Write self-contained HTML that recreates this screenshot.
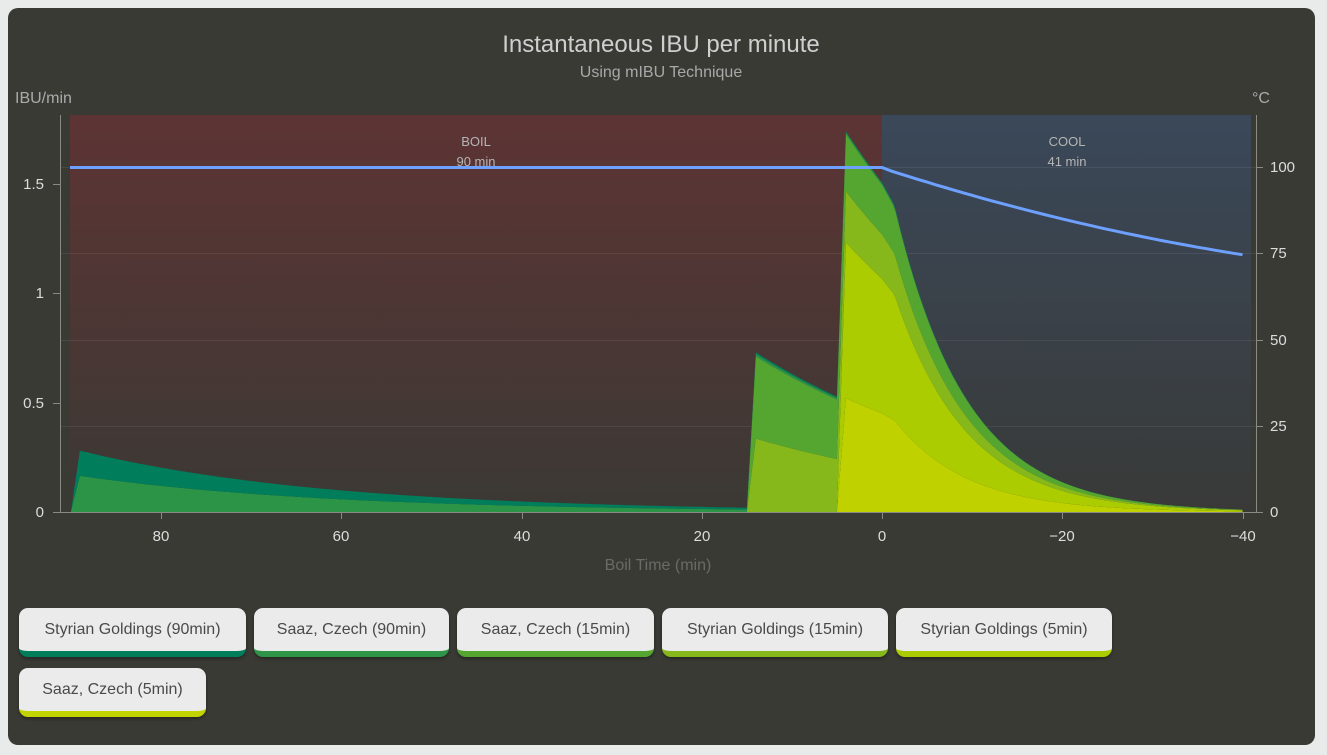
<!DOCTYPE html>
<html><head><meta charset="utf-8">
<style>
html,body{margin:0;padding:0;background:#e9ebea;width:1327px;height:755px;overflow:hidden;font-family:"Liberation Sans",sans-serif}
#card{position:absolute;left:8px;top:8px;width:1307px;height:737px;background:#3a3a35;border-radius:10px}
svg{position:absolute;left:0;top:0}
.btn{position:absolute;height:49px;background:#ebebeb;border-radius:9px;font-size:16px;color:#4a4a4a;line-height:44px;text-align:center;box-sizing:border-box;box-shadow:0 2px 3px rgba(0,0,0,.35)}
</style></head><body>
<div id="card"></div>
<svg id="s" width="1327" height="755" xmlns="http://www.w3.org/2000/svg" font-family="Liberation Sans, DejaVu Sans, sans-serif">
<defs>
<linearGradient id="gb" x1="0" y1="0" x2="0" y2="1"><stop offset="0" stop-color="#5d3434"/><stop offset="1" stop-color="#3b3935"/></linearGradient>
<linearGradient id="gc" x1="0" y1="0" x2="0" y2="1"><stop offset="0" stop-color="#3a4859"/><stop offset="1" stop-color="#393a38"/></linearGradient>
</defs>
<rect x="70" y="115" width="812" height="397" fill="url(#gb)"/>
<rect x="882" y="115" width="369" height="397" fill="url(#gc)"/>
<g stroke="#ffffff" stroke-opacity="0.07" stroke-width="1">
<line x1="60" y1="426.5" x2="1256" y2="426.5"/><line x1="60" y1="340.5" x2="1256" y2="340.5"/><line x1="60" y1="253.5" x2="1256" y2="253.5"/><line x1="60" y1="167.5" x2="1256" y2="167.5"/>
</g>
<g id="areas"></g>
<polyline id="temp" fill="none" stroke="#6ea0ff" stroke-width="3"/>
<g stroke="#8a8a85" stroke-width="1">
<line x1="60.5" y1="115" x2="60.5" y2="512"/><line x1="1256.5" y1="115" x2="1256.5" y2="512"/><line x1="53" y1="512.5" x2="1263" y2="512.5"/>
<line x1="53" y1="403.5" x2="60" y2="403.5"/><line x1="53" y1="293.5" x2="60" y2="293.5"/><line x1="53" y1="184.5" x2="60" y2="184.5"/>
<line x1="1256" y1="426.5" x2="1263" y2="426.5"/><line x1="1256" y1="340.5" x2="1263" y2="340.5"/><line x1="1256" y1="253.5" x2="1263" y2="253.5"/><line x1="1256" y1="167.5" x2="1263" y2="167.5"/>
<line x1="161.5" y1="512" x2="161.5" y2="519"/><line x1="341.5" y1="512" x2="341.5" y2="519"/><line x1="522.5" y1="512" x2="522.5" y2="519"/><line x1="702.5" y1="512" x2="702.5" y2="519"/><line x1="882.5" y1="512" x2="882.5" y2="519"/><line x1="1062.5" y1="512" x2="1062.5" y2="519"/><line x1="1243.5" y1="512" x2="1243.5" y2="519"/>
</g>
<g fill="#dcdcdc" font-size="15">
<text x="44" y="517" text-anchor="end">0</text><text x="44" y="408" text-anchor="end">0.5</text><text x="44" y="298" text-anchor="end">1</text><text x="44" y="189" text-anchor="end">1.5</text>
<text x="1270" y="517">0</text><text x="1270" y="431">25</text><text x="1270" y="345">50</text><text x="1270" y="258">75</text><text x="1270" y="172">100</text>
<g text-anchor="middle"><text x="161" y="541">80</text><text x="341" y="541">60</text><text x="522" y="541">40</text><text x="702" y="541">20</text><text x="882" y="541">0</text><text x="1062" y="541">−20</text><text x="1243" y="541">−40</text></g>
</g>
<text x="15" y="103" fill="#aaa" font-size="16">IBU/min</text>
<text x="1252" y="103" fill="#aaa" font-size="16">°C</text>
<text x="661" y="52" fill="#cfcfcf" font-size="24" text-anchor="middle">Instantaneous IBU per minute</text>
<text x="661" y="77" fill="#a8a8a8" font-size="16" text-anchor="middle">Using mIBU Technique</text>
<text x="658" y="570" fill="#6a6a66" font-size="16" text-anchor="middle">Boil Time (min)</text>
<g fill="#b5b5b5" font-size="13" text-anchor="middle">
<text x="476" y="146">BOIL</text><text x="476" y="166">90 min</text>
<text x="1067" y="146">COOL</text><text x="1067" y="166">41 min</text>
</g>
</svg>
<div class="btn" style="left:19px;top:608px;width:227px;border-bottom:6px solid #007e5c">Styrian Goldings (90min)</div>
<div class="btn" style="left:254px;top:608px;width:195px;border-bottom:6px solid #2d9448">Saaz, Czech (90min)</div>
<div class="btn" style="left:457px;top:608px;width:197px;border-bottom:6px solid #55a630">Saaz, Czech (15min)</div>
<div class="btn" style="left:662px;top:608px;width:226px;border-bottom:6px solid #86b81c">Styrian Goldings (15min)</div>
<div class="btn" style="left:896px;top:608px;width:216px;border-bottom:6px solid #aacc00">Styrian Goldings (5min)</div>
<div class="btn" style="left:19px;top:668px;width:187px;border-bottom:6px solid #c2d400">Saaz, Czech (5min)</div>
<script>
(function(){
var X=function(t){return 882-9.0125*t},Y=function(v){return 512-219*v};
var kb=0.036;
function ser(start,peak){return function(t){
 if(t>start)return 0;
 if(t>start-1)return peak*(start-t);
 var tb=Math.max(t,0);var v=peak*Math.exp(-kb*(start-1-tb));
 if(t<0){var a=-t; var f=a<1.4?1-0.05*a:0.93*Math.exp(-0.125*(a-1.4)); v*=f;}
 return v;}}
var S=[[ser(5,0.52),"#c0d100"],[ser(5,0.71),"#aacc00"],[ser(15,0.335),"#86b81c"],[ser(15,0.375),"#55a630"],[ser(90,0.165),"#2b9447"],[ser(90,0.115),"#007e5c"]];
var ts=[];for(var t=90;t>=-40.01;t-=0.25)ts.push(Math.round(t*100)/100);
[90,89,15,14,5,4].forEach(function(v){ts.push(v+0.001)});
ts.sort(function(a,b){return b-a});
var base=ts.map(function(){return 0});
var g=document.getElementById('areas'),h='';
S.forEach(function(s){
 var top=ts.map(function(t,i){return base[i]+s[0](t)});
 var d='M'+X(ts[0]).toFixed(1)+','+Y(top[0]).toFixed(1);
 for(var i=1;i<ts.length;i++)d+='L'+X(ts[i]).toFixed(1)+','+Y(top[i]).toFixed(1);
 for(var i=ts.length-1;i>=0;i--)d+='L'+X(ts[i]).toFixed(1)+','+Y(base[i]).toFixed(1);
 h+='<path d="'+d+'Z" fill="'+s[1]+'"/>';
 base=top;
});
g.innerHTML=h;
var p='70,167.5 882,167.5';
for(var t=-1;t>=-40;t--){var a=-t;var temp=100-0.85*a+0.0055*a*a;p+=' '+X(t).toFixed(1)+','+(512-3.44*temp).toFixed(1);}
document.getElementById('temp').setAttribute('points',p);
})();
</script>
</body></html>
